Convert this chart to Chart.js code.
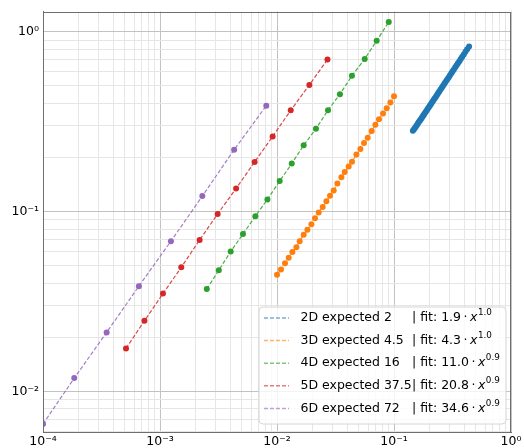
<!DOCTYPE html>
<html>
<head>
<meta charset="utf-8">
<script src="https://cdn.jsdelivr.net/npm/chart.js@4.4.0/dist/chart.umd.min.js"></script>
<style>
  html, body { margin: 0; padding: 0; background: #fff; }
  canvas { display: block; }
</style>
</head>
<body>
<canvas id="myChart" width="524" height="448"></canvas>
<script>
// values (log-log)
const x2D = [0.145, 0.148, 0.151, 0.154, 0.157, 0.160, 0.163, 0.166, 0.169, 0.172, 0.175, 0.178, 0.181,
  0.185, 0.189, 0.193, 0.197, 0.201, 0.205, 0.209, 0.213, 0.218, 0.223, 0.228, 0.233, 0.238, 0.243,
  0.249, 0.255, 0.261, 0.267, 0.273, 0.280, 0.287, 0.294, 0.301, 0.309, 0.317, 0.325, 0.334, 0.343,
  0.352, 0.362, 0.372, 0.383, 0.395, 0.408, 0.422, 0.438];
const y2D = [0.282, 0.287, 0.292, 0.298, 0.303, 0.309, 0.315, 0.320, 0.326, 0.331, 0.337, 0.343, 0.348,
  0.356, 0.363, 0.371, 0.378, 0.386, 0.393, 0.401, 0.408, 0.418, 0.427, 0.436, 0.446, 0.455, 0.465,
  0.476, 0.487, 0.498, 0.510, 0.521, 0.534, 0.547, 0.560, 0.573, 0.588, 0.603, 0.618, 0.635, 0.652,
  0.669, 0.687, 0.706, 0.727, 0.749, 0.774, 0.800, 0.829];

const x3D = [0.0100, 0.01082, 0.01170, 0.01259, 0.01354, 0.01465, 0.01563, 0.01691, 0.01819, 0.01968,
  0.02113, 0.02272, 0.02458, 0.02644, 0.02838, 0.03052, 0.03282, 0.03551, 0.03790, 0.04100, 0.04375,
  0.04772, 0.05162, 0.05540, 0.05960, 0.06448, 0.06934, 0.07440, 0.08054, 0.08661, 0.09315, 0.1000];
const y3D = [0.0445, 0.0476, 0.0516, 0.0554, 0.0596, 0.0634, 0.0685, 0.0744, 0.0793, 0.0852, 0.0920,
  0.0989, 0.1061, 0.1141, 0.1227, 0.1312, 0.1433, 0.1552, 0.1662, 0.1784, 0.1894, 0.2077, 0.2233,
  0.2410, 0.2577, 0.2805, 0.3039, 0.3266, 0.3511, 0.3755, 0.4051, 0.4387];

const x4D = [0.00251, 0.00318, 0.00402, 0.00512, 0.00653, 0.00828, 0.01054, 0.01337, 0.01690, 0.02153,
  0.0273, 0.0345, 0.0437, 0.0562, 0.0711, 0.0902];
const y4D = [0.0371, 0.0472, 0.0600, 0.0751, 0.0944, 0.117, 0.148, 0.185, 0.234, 0.289, 0.367, 0.450,
  0.570, 0.707, 0.892, 1.135];

const x5D = [0.000512, 0.000736, 0.00106, 0.00152, 0.00218, 0.00311, 0.00447, 0.00644, 0.00918, 0.0131,
  0.0189, 0.0270];
const y5D = [0.01733, 0.0247, 0.0350, 0.0490, 0.0696, 0.0971, 0.1345, 0.189, 0.262, 0.366, 0.507, 0.701];

const x6D = [0.0001, 0.000185, 0.00035, 0.00066, 0.00124, 0.0023, 0.0043, 0.0081];
const y6D = [0.00659, 0.01186, 0.0213, 0.0385, 0.0685, 0.122, 0.221, 0.388];

const seriesX = [x2D, x3D, x4D, x5D, x6D];
const seriesY = [y2D, y3D, y4D, y5D, y6D];
const colors = ["#1f77b4", "#ff7f0e", "#2ca02c", "#d62728", "#9467bd"];
const legendNames = ["2D expected 2", "3D expected 4.5", "4D expected 16", "5D expected 37.5", "6D expected 72"];
const fitCoef = ["1.9", "4.3", "11.0", "20.8", "34.6"];
const fitExp = ["1.0", "1.0", "0.9", "0.9", "0.9"];

const xMajorTicks = [1e-4, 1e-3, 1e-2, 1e-1, 1];
const xTickLabels = ["10⁻⁴", "10⁻³", "10⁻²", "10⁻¹", "10⁰"];
const yMajorTicks = [1e-2, 1e-1, 1];
const yTickLabels = ["10⁻²", "10⁻¹", "10⁰"];

const FONT = '"DejaVu Sans", sans-serif';

function withAlpha(hex, a) {
  const n = parseInt(hex.slice(1), 16);
  return `rgba(${(n >> 16) & 255}, ${(n >> 8) & 255}, ${n & 255}, ${a})`;
}

// 1..9 x 10^n ticks between min and max
function logTicks(min, max) {
  const out = [];
  for (let e = Math.floor(Math.log10(min)); e <= Math.ceil(Math.log10(max)); e++) {
    for (let s = 1; s < 10; s++) {
      const v = s * Math.pow(10, e);
      if (v >= min * 0.999 && v <= max * 1.001) out.push({ value: v });
    }
  }
  return out;
}

function isMajor(v) {
  const l = Math.log10(v);
  return Math.abs(l - Math.round(l)) < 1e-6;
}

const datasets = seriesX.map((xs, i) => ({
  label: legendNames[i],
  data: xs.map((x, k) => ({ x: x, y: seriesY[i][k] })),
  showLine: true,
  borderColor: withAlpha(colors[i], 0.85),
  borderWidth: 1.2,
  borderDash: [4, 2],
  pointRadius: 3,
  pointBorderWidth: 0,
  pointBackgroundColor: colors[i],
  pointHoverRadius: 3,
}));

// full box around the axes (matplotlib spines)
const frame = {
  id: "frame",
  afterDatasetsDraw(chart) {
    const a = chart.chartArea;
    const c = chart.ctx;
    c.save();
    c.strokeStyle = "#6e6e6e";
    c.lineWidth = 1;
    c.strokeRect(Math.round(a.left) + 0.5, Math.round(a.top) + 0.5,
      Math.round(a.right - a.left) - 1, Math.round(a.bottom - a.top) - 1);
    c.restore();
  },
};

// legend drawn by hand so the fit can carry its exponent
const fitLegend = {
  id: "fitLegend",
  afterDraw(chart) {
    const ctx = chart.ctx;
    const area = chart.chartArea;
    const w = 247, h = 117;
    const bx = area.right - 5 - w;
    const by = area.bottom - 8 - h;
    ctx.save();
    ctx.beginPath();
    ctx.roundRect(bx, by, w, h, 4);
    ctx.fillStyle = "rgba(255,255,255,0.8)";
    ctx.fill();
    ctx.strokeStyle = "#d6d6d6";
    ctx.lineWidth = 1;
    ctx.stroke();

    legendNames.forEach((name, i) => {
      const cy = by + 11 + i * 22.6;
      // line sample
      ctx.beginPath();
      ctx.setLineDash([4, 2]);
      ctx.strokeStyle = withAlpha(colors[i], 0.6);
      ctx.lineWidth = 1.5;
      ctx.moveTo(bx + 5, cy);
      ctx.lineTo(bx + 30, cy);
      ctx.stroke();
      ctx.setLineDash([]);

      ctx.fillStyle = "#000";
      ctx.textBaseline = "middle";
      ctx.textAlign = "left";
      ctx.font = "12.5px " + FONT;
      let tx = bx + 41.5;
      ctx.fillText(name, tx, cy);
      tx = Math.max(bx + 153, tx + ctx.measureText(name).width);
      const part = "| fit: " + fitCoef[i];
      ctx.fillText(part, tx, cy);
      tx += ctx.measureText(part).width + 2.5;
      ctx.fillText("·", tx, cy);
      tx += ctx.measureText("·").width + 2.5;
      ctx.font = "italic 12.5px " + FONT;
      ctx.fillText("x", tx, cy);
      tx += ctx.measureText("x").width + 0.5;
      ctx.font = "8.8px " + FONT;
      ctx.fillText(fitExp[i], tx, cy - 5);
    });
    ctx.restore();
  },
};

const ctx = document.getElementById("myChart").getContext("2d");
new Chart(ctx, {
  type: "scatter",
  data: { datasets: datasets },
  options: {
    responsive: false,
    animation: false,
    layout: { padding: { top: 7, right: 13, left: 0, bottom: 0 } },
    plugins: { legend: { display: false }, tooltip: { enabled: false } },
    scales: {
      x: {
        type: "logarithmic",
        min: 1e-4,
        max: 1,
        afterBuildTicks: (scale) => { scale.ticks = logTicks(scale.min, scale.max); },
        afterFit: (scale) => { scale.height = 16; },
        ticks: {
          autoSkip: false,
          maxRotation: 0,
          padding: 2,
          color: "#000",
          font: { family: FONT, size: 12.5 },
          callback: (v) => {
            const k = xMajorTicks.findIndex((t) => Math.abs(t - v) / t < 1e-6);
            return k >= 0 ? xTickLabels[k] : "";
          },
        },
        grid: {
          drawTicks: false,
          color: (c) => (c.tick && isMajor(c.tick.value) ? "#c2c2c2" : "#e6e6e6"),
          lineWidth: 1,
        },
        border: { color: "#6e6e6e", width: 1 },
      },
      y: {
        type: "logarithmic",
        min: 0.005948,
        max: 1.298,
        afterBuildTicks: (scale) => { scale.ticks = logTicks(scale.min, scale.max); },
        afterFit: (scale) => { scale.width = 43; },
        ticks: {
          autoSkip: false,
          padding: 4,
          color: "#000",
          font: { family: FONT, size: 12.5 },
          callback: (v) => {
            const k = yMajorTicks.findIndex((t) => Math.abs(t - v) / t < 1e-6);
            return k >= 0 ? yTickLabels[k] : "";
          },
        },
        grid: {
          drawTicks: false,
          color: (c) => (c.tick && isMajor(c.tick.value) ? "#c2c2c2" : "#e6e6e6"),
          lineWidth: 1,
        },
        border: { color: "#6e6e6e", width: 1 },
      },
    },
  },
  plugins: [frame, fitLegend],
});
</script>
</body>
</html>
